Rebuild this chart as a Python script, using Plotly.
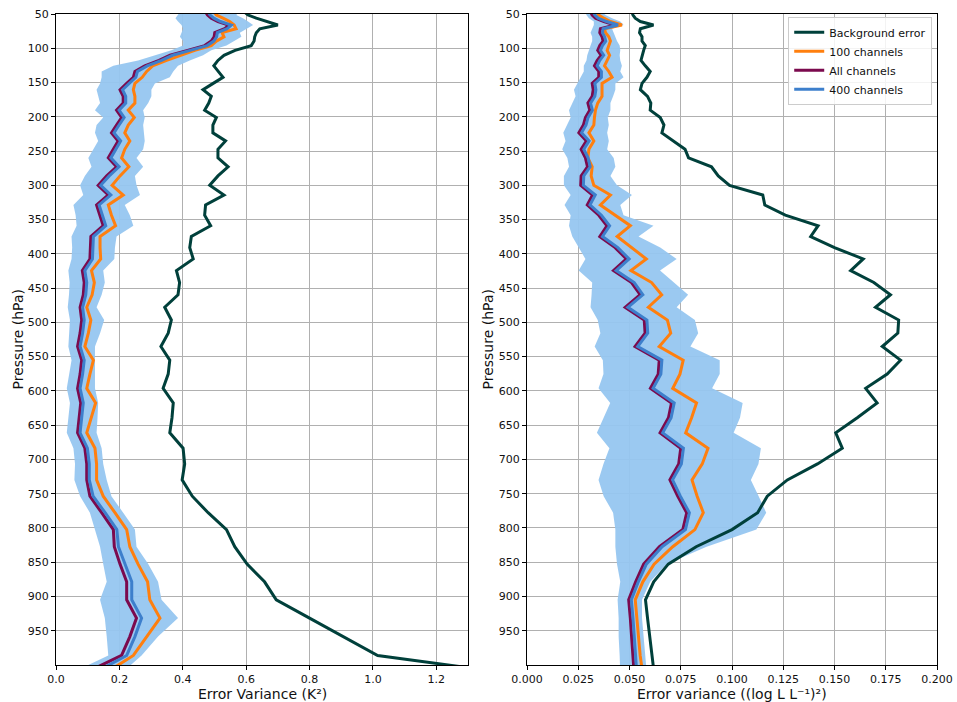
import plotly.graph_objects as go

# Pressure levels (hPa) of the retrieval grid
pressure = [
    47.1882, 51.5278, 56.1260, 60.9895, 66.1253, 71.5398, 77.2396, 83.2310, 89.5204, 96.1138,
    103.0172, 110.2366, 117.7775, 125.6456, 133.8462, 142.3848, 151.2664, 160.4959, 170.0784, 180.0183,
    190.3203, 200.9887, 212.0277, 223.4415, 235.2338, 247.4085, 259.9691, 272.9191, 286.2617, 300.0000,
    314.1369, 328.6753, 343.6176, 358.9665, 374.7241, 390.8926, 407.4738, 424.4698, 441.8819, 459.7118,
    477.9607, 496.6298, 515.7200, 535.2322, 555.1669, 575.5248, 596.3062, 617.5112, 639.1398, 661.1920,
    683.6673, 706.5654, 729.8857, 753.6275, 777.7897, 802.3714, 827.3713, 852.7880, 878.6201, 904.8659,
    931.5236, 958.5911, 986.0666, 1013.9476,
]

# Temperature error variance (K^2)
t_background = [
    0.595, 0.606, 0.632, 0.668, 0.700, 0.643, 0.632, 0.627, 0.625, 0.616,
    0.565, 0.530, 0.511, 0.498, 0.511, 0.527, 0.496, 0.464, 0.490, 0.482,
    0.469, 0.506, 0.495, 0.495, 0.535, 0.511, 0.511, 0.543, 0.511, 0.485,
    0.530, 0.472, 0.469, 0.488, 0.427, 0.422, 0.433, 0.380, 0.390, 0.385,
    0.343, 0.364, 0.354, 0.331, 0.359, 0.354, 0.338, 0.370, 0.366, 0.359,
    0.401, 0.406, 0.398, 0.430, 0.480, 0.538, 0.564, 0.603, 0.658, 0.695,
    0.800, 0.905, 1.015, 1.460,
]
t_100ch = [
    0.499, 0.506, 0.527, 0.548, 0.562, 0.568, 0.524, 0.530, 0.506, 0.490,
    0.438, 0.391, 0.349, 0.305, 0.286, 0.272, 0.249, 0.244, 0.249, 0.249,
    0.228, 0.247, 0.228, 0.217, 0.233, 0.217, 0.207, 0.230, 0.202, 0.177,
    0.212, 0.165, 0.175, 0.188, 0.139, 0.139, 0.141, 0.112, 0.121, 0.114,
    0.097, 0.110, 0.102, 0.091, 0.118, 0.107, 0.097, 0.125, 0.112, 0.097,
    0.123, 0.128, 0.128, 0.149, 0.186, 0.223, 0.233, 0.259, 0.289, 0.296,
    0.328, 0.286, 0.244, 0.149,
]
t_all = [
    0.472, 0.478, 0.490, 0.511, 0.545, 0.532, 0.501, 0.499, 0.490, 0.469,
    0.415, 0.360, 0.325, 0.280, 0.249, 0.244, 0.223, 0.202, 0.212, 0.212,
    0.191, 0.207, 0.191, 0.175, 0.196, 0.181, 0.165, 0.191, 0.160, 0.133,
    0.165, 0.128, 0.139, 0.149, 0.110, 0.108, 0.107, 0.083, 0.089, 0.086,
    0.076, 0.081, 0.076, 0.068, 0.081, 0.076, 0.068, 0.078, 0.072, 0.068,
    0.091, 0.097, 0.097, 0.107, 0.144, 0.181, 0.184, 0.202, 0.223, 0.223,
    0.254, 0.233, 0.207, 0.081,
]
t_400ch = [
    0.480, 0.486, 0.498, 0.519, 0.553, 0.540, 0.509, 0.507, 0.498, 0.477,
    0.423, 0.368, 0.333, 0.288, 0.257, 0.252, 0.231, 0.210, 0.220, 0.220,
    0.199, 0.215, 0.199, 0.183, 0.204, 0.189, 0.173, 0.199, 0.168, 0.141,
    0.173, 0.136, 0.147, 0.157, 0.118, 0.116, 0.115, 0.091, 0.097, 0.094,
    0.084, 0.089, 0.084, 0.076, 0.089, 0.084, 0.076, 0.086, 0.080, 0.076,
    0.099, 0.105, 0.105, 0.117, 0.155, 0.192, 0.197, 0.218, 0.239, 0.239,
    0.270, 0.249, 0.223, 0.111,
]
t_spread_low = [
    0.391, 0.383, 0.377, 0.385, 0.396, 0.401, 0.396, 0.391, 0.401, 0.401,
    0.364, 0.312, 0.259, 0.181, 0.144, 0.144, 0.139, 0.128, 0.133, 0.139,
    0.123, 0.149, 0.128, 0.123, 0.133, 0.118, 0.102, 0.112, 0.091, 0.076,
    0.086, 0.055, 0.062, 0.065, 0.049, 0.051, 0.049, 0.039, 0.043, 0.041,
    0.037, 0.044, 0.041, 0.039, 0.049, 0.041, 0.034, 0.044, 0.039, 0.034,
    0.055, 0.060, 0.058, 0.076, 0.107, 0.123, 0.139, 0.149, 0.160, 0.139,
    0.154, 0.160, 0.165, 0.039,
]
t_spread_high = [
    0.576, 0.569, 0.590, 0.606, 0.622, 0.601, 0.580, 0.585, 0.564, 0.538,
    0.490, 0.464, 0.422, 0.385, 0.370, 0.359, 0.312, 0.301, 0.301, 0.291,
    0.275, 0.280, 0.275, 0.278, 0.280, 0.275, 0.254, 0.275, 0.249, 0.254,
    0.265, 0.217, 0.233, 0.244, 0.191, 0.186, 0.184, 0.149, 0.154, 0.144,
    0.128, 0.152, 0.139, 0.123, 0.125, 0.123, 0.123, 0.133, 0.131, 0.128,
    0.144, 0.149, 0.160, 0.175, 0.212, 0.249, 0.254, 0.291, 0.322, 0.333,
    0.385, 0.322, 0.270, 0.202,
]

# Humidity error variance ((log L L^-1)^2)
q_background = [
    0.0512, 0.0517, 0.0528, 0.0553, 0.0617, 0.0553, 0.0549, 0.0561, 0.0561, 0.0577,
    0.0569, 0.0561, 0.0556, 0.0577, 0.0601, 0.0585, 0.0561, 0.0553, 0.0588, 0.0604,
    0.0601, 0.0650, 0.0668, 0.0658, 0.0715, 0.0771, 0.0788, 0.0900, 0.0933, 0.0988,
    0.1150, 0.1160, 0.1260, 0.1420, 0.1384, 0.1500, 0.1640, 0.1579, 0.1692, 0.1773,
    0.1700, 0.1813, 0.1809, 0.1733, 0.1822, 0.1757, 0.1652, 0.1708, 0.1611, 0.1506,
    0.1538, 0.1417, 0.1270, 0.1172, 0.1125, 0.1000, 0.0825, 0.0689, 0.0618, 0.0578,
    0.0588, 0.0598, 0.0609, 0.0621,
]
q_100ch = [
    0.0339, 0.0350, 0.0375, 0.0407, 0.0463, 0.0378, 0.0383, 0.0399, 0.0407, 0.0399,
    0.0391, 0.0403, 0.0391, 0.0378, 0.0399, 0.0415, 0.0366, 0.0366, 0.0366, 0.0345,
    0.0334, 0.0329, 0.0326, 0.0302, 0.0326, 0.0302, 0.0297, 0.0318, 0.0313, 0.0326,
    0.0407, 0.0358, 0.0431, 0.0504, 0.0440, 0.0512, 0.0582, 0.0507, 0.0608, 0.0657,
    0.0592, 0.0685, 0.0701, 0.0645, 0.0762, 0.0746, 0.0711, 0.0827, 0.0803, 0.0774,
    0.0883, 0.0855, 0.0805, 0.0830, 0.0860, 0.0819, 0.0711, 0.0620, 0.0565, 0.0528,
    0.0536, 0.0544, 0.0552, 0.0565,
]
q_all = [
    0.0310, 0.0318, 0.0334, 0.0375, 0.0431, 0.0358, 0.0355, 0.0366, 0.0371, 0.0355,
    0.0345, 0.0361, 0.0342, 0.0329, 0.0350, 0.0350, 0.0318, 0.0323, 0.0318, 0.0297,
    0.0306, 0.0285, 0.0275, 0.0253, 0.0290, 0.0264, 0.0285, 0.0295, 0.0264, 0.0262,
    0.0320, 0.0294, 0.0350, 0.0390, 0.0355, 0.0430, 0.0485, 0.0422, 0.0510, 0.0552,
    0.0479, 0.0572, 0.0576, 0.0527, 0.0645, 0.0640, 0.0602, 0.0705, 0.0690, 0.0649,
    0.0750, 0.0740, 0.0697, 0.0735, 0.0779, 0.0760, 0.0646, 0.0569, 0.0530, 0.0496,
    0.0504, 0.0509, 0.0517, 0.0523,
]
q_400ch = [
    0.0323, 0.0331, 0.0347, 0.0388, 0.0444, 0.0371, 0.0368, 0.0379, 0.0384, 0.0368,
    0.0358, 0.0374, 0.0355, 0.0342, 0.0363, 0.0363, 0.0331, 0.0336, 0.0331, 0.0310,
    0.0319, 0.0298, 0.0288, 0.0266, 0.0303, 0.0277, 0.0298, 0.0308, 0.0277, 0.0275,
    0.0333, 0.0307, 0.0363, 0.0403, 0.0368, 0.0443, 0.0498, 0.0435, 0.0523, 0.0565,
    0.0492, 0.0585, 0.0589, 0.0540, 0.0658, 0.0653, 0.0615, 0.0718, 0.0703, 0.0662,
    0.0763, 0.0753, 0.0710, 0.0748, 0.0792, 0.0773, 0.0659, 0.0582, 0.0543, 0.0509,
    0.0517, 0.0522, 0.0530, 0.0536,
]
q_spread_low = [
    0.0285, 0.0290, 0.0302, 0.0326, 0.0326, 0.0318, 0.0310, 0.0318, 0.0318, 0.0310,
    0.0302, 0.0294, 0.0290, 0.0277, 0.0277, 0.0261, 0.0245, 0.0229, 0.0237, 0.0221,
    0.0205, 0.0213, 0.0197, 0.0177, 0.0188, 0.0172, 0.0197, 0.0205, 0.0180, 0.0180,
    0.0213, 0.0183, 0.0213, 0.0205, 0.0221, 0.0253, 0.0285, 0.0252, 0.0318, 0.0315,
    0.0310, 0.0345, 0.0358, 0.0330, 0.0370, 0.0373, 0.0349, 0.0406, 0.0375, 0.0341,
    0.0402, 0.0373, 0.0349, 0.0374, 0.0420, 0.0431, 0.0431, 0.0439, 0.0455, 0.0442,
    0.0447, 0.0447, 0.0452, 0.0455,
]
q_spread_high = [
    0.0366, 0.0383, 0.0415, 0.0455, 0.0471, 0.0415, 0.0423, 0.0431, 0.0439, 0.0452,
    0.0455, 0.0452, 0.0455, 0.0463, 0.0455, 0.0471, 0.0431, 0.0431, 0.0420, 0.0407,
    0.0407, 0.0394, 0.0399, 0.0391, 0.0399, 0.0391, 0.0423, 0.0431, 0.0407, 0.0439,
    0.0512, 0.0455, 0.0471, 0.0617, 0.0544, 0.0650, 0.0730, 0.0649, 0.0714, 0.0786,
    0.0730, 0.0819, 0.0835, 0.0797, 0.0940, 0.0940, 0.0903, 0.1052, 0.1039, 0.1008,
    0.1141, 0.1129, 0.1092, 0.1130, 0.1167, 0.1119, 0.0876, 0.0682, 0.0601, 0.0561,
    0.0561, 0.0569, 0.0577, 0.0585,
]

pressure_ticks = list(range(50, 1000, 50))
t_ticks = [0.0, 0.2, 0.4, 0.6, 0.8, 1.0, 1.2]
q_ticks = [0.0, 0.025, 0.05, 0.075, 0.1, 0.125, 0.15, 0.175, 0.2]

series_names = ["Background error", "100 channels", "All channels", "400 channels"]
series_colors = ["#00403b", "#ff7f0e", "#7b0a4e", "#3d7fcc"]
spread_color = "rgba(150,198,240,0.95)"

FONT = "DejaVu Sans"
TEXT = "#111111"

fig = go.Figure()


def add_panel(xa, ya, low, high, profiles, legend):
    # spread envelope drawn as a closed polygon between the two edges
    fig.add_trace(go.Scatter(
        x=low + high[::-1], y=pressure + pressure[::-1],
        fill="toself", fillcolor=spread_color, mode="lines",
        line=dict(width=0), hoverinfo="skip", showlegend=False,
        xaxis=xa, yaxis=ya,
    ))
    for name, color, vals in zip(series_names, series_colors, profiles):
        fig.add_trace(go.Scatter(
            x=vals, y=pressure, mode="lines", name=name,
            line=dict(color=color, width=3),
            showlegend=legend, xaxis=xa, yaxis=ya,
        ))


add_panel("x", "y", t_spread_low, t_spread_high,
          [t_background, t_100ch, t_all, t_400ch], False)
add_panel("x2", "y2", q_spread_low, q_spread_high,
          [q_background, q_100ch, q_all, q_400ch], True)

W, H = 957, 702
left_dom = [56 / W, 468 / W]
right_dom = [527 / W, 937 / W]
y_dom = [(H - 665) / H, (H - 14) / H]

axis_common = dict(
    showline=True, linecolor="black", linewidth=1, mirror=True,
    ticks="outside", ticklen=4, tickcolor="black",
    showgrid=True, gridcolor="#b0b0b0", gridwidth=1, zeroline=False,
    tickfont=dict(family=FONT, size=11, color=TEXT),
    automargin=False,
)
yaxis_common = dict(
    axis_common, range=[1000, 50], tickmode="array", tickvals=pressure_ticks,
)

fig.update_layout(
    width=W, height=H,
    margin=dict(l=0, r=0, t=0, b=0),
    paper_bgcolor="white", plot_bgcolor="white",
    font=dict(family=FONT, size=11, color=TEXT),
    xaxis=dict(axis_common, domain=left_dom, anchor="y", range=[0, 1.3],
               tickmode="array", tickvals=t_ticks, tickformat=".1f"),
    yaxis=dict(yaxis_common, domain=y_dom, anchor="x"),
    xaxis2=dict(axis_common, domain=right_dom, anchor="y2", range=[0, 0.2],
                tickmode="array", tickvals=q_ticks, tickformat=".3f"),
    yaxis2=dict(yaxis_common, domain=y_dom, anchor="x2"),
    legend=dict(
        x=right_dom[1] - 0.005, y=y_dom[1] - 0.004, xanchor="right", yanchor="top",
        bgcolor="rgba(255,255,255,0.85)", bordercolor="#cccccc", borderwidth=1,
        font=dict(family=FONT, size=11, color=TEXT),
        tracegroupgap=0,
    ),
)

# axis titles placed as annotations so the plot boxes keep their exact extents
title_font = dict(family=FONT, size=14, color=TEXT)
y_mid = (y_dom[0] + y_dom[1]) / 2
for dom, text in [(left_dom, "Error Variance (K\u00b2)"),
                  (right_dom, "Error variance ((log L L\u207b\u00b9)\u00b2)")]:
    fig.add_annotation(x=(dom[0] + dom[1]) / 2, y=0.0, xref="paper", yref="paper",
                       text=text, showarrow=False, font=title_font, borderpad=0,
                       xanchor="center", yanchor="bottom", yshift=-1)
for xpos in [17 / W, 487 / W]:
    fig.add_annotation(x=xpos, y=y_mid, xref="paper", yref="paper",
                       text="Pressure (hPa)", showarrow=False, font=title_font,
                       textangle=-90, xanchor="center", yanchor="middle")

fig.write_html("out.html")
